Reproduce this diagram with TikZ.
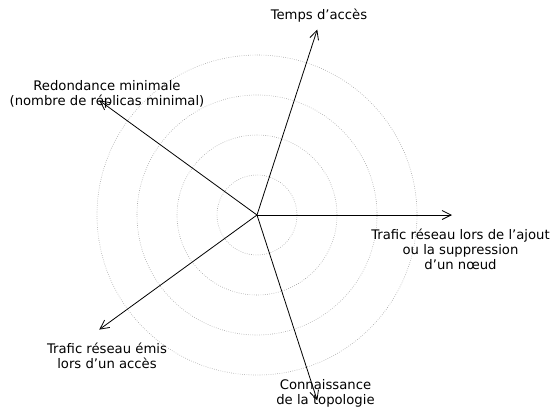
\documentclass[tikz,border=0pt]{standalone}
\usepackage{fontspec}
\setmainfont{DejaVu Sans}
\usetikzlibrary{arrows.meta}
\begin{document}
\begin{tikzpicture}[x=1pt,y=1pt,
  ring/.style={draw=gray!75, dash pattern=on 0.6pt off 1.6pt, line width=0.6pt},
  axis/.style={draw=black, line width=0.8pt, -{Straight Barb[length=9pt,width=9pt,line width=0.8pt]}},
  lbl/.style={font=\fontsize{13.2}{15}\selectfont, align=center, inner sep=0pt, anchor=base}]
  \useasboundingbox (-257,-193) rectangle (297,215);
  \coordinate (o) at (0,0);
  % concentric scale rings
  \foreach \r in {40,80,120,160} \draw[ring] (o) circle (\r);
  % axis end points, spaced regularly
  \coordinate (a1) at (0:195);
  \coordinate (a2) at (72:195);
  \coordinate (a3) at (144:195);
  \coordinate (a4) at (216:195);
  \coordinate (a5) at (288:195);
  \foreach \i in {1,...,5} \draw[axis] (o) -- (a\i);
  % axis labels (base anchor sits on the last line)
  \node[lbl] (l2) at (62,196) {Temps d’accès};
  \node[lbl] (l3) at (-150,109.5) {Redondance minimale\\(nombre de réplicas minimal)};
  \node[lbl] (l1) at (203.5,-54) {Trafic réseau lors de l’ajout\\ou la suppression\\d’un nœud};
  \node[lbl] (l4) at (-150,-153) {Trafic réseau émis\\lors d’un accès};
  \node[lbl] (l5) at (68.5,-189.5) {Connaissance\\de la topologie};
\end{tikzpicture}
\end{document}
